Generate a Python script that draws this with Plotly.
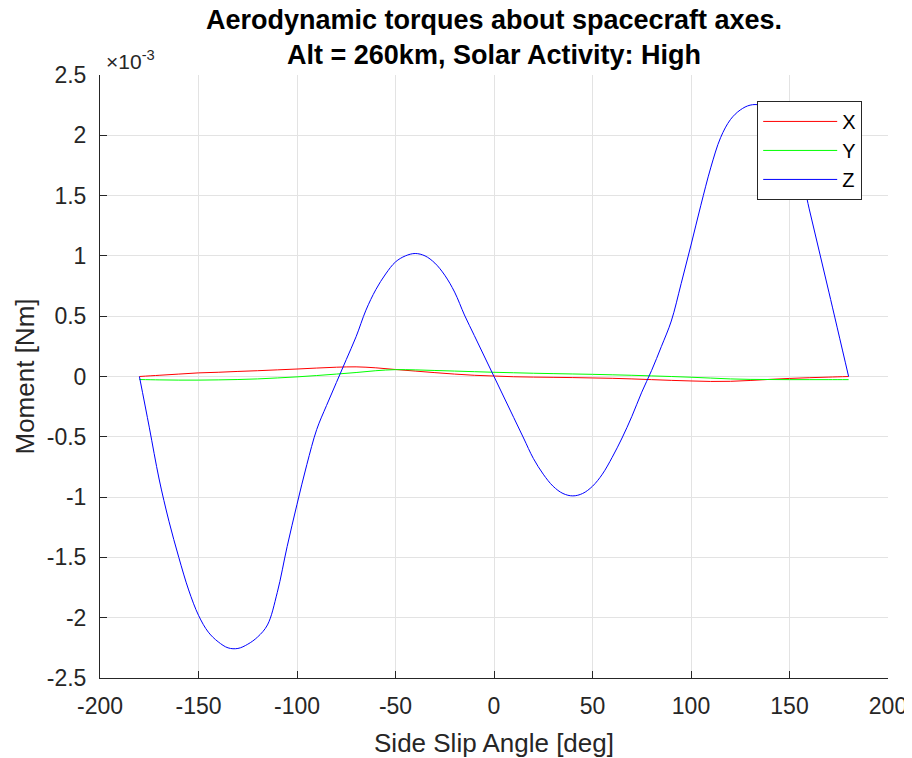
import plotly.graph_objects as go

# Side slip angle [deg]
angle_xy = [-180, -170, -160, -150, -140, -130, -120, -110, -100, -90, -80, -70, -60, -50, -40,
            -30, -20, -10, 0, 10, 20, 30, 40, 50, 60, 70, 80, 90, 100, 110, 120, 130, 140,
            150, 160, 170, 180]
# Moments in units of 1e-3 Nm
mx = [0.0, 0.01, 0.02, 0.03, 0.035, 0.042, 0.048, 0.055, 0.062, 0.07, 0.077, 0.08, 0.072,
      0.058, 0.045, 0.032, 0.02, 0.01, 0.004, -0.002, -0.005, -0.007, -0.009, -0.012, -0.015,
      -0.02, -0.026, -0.032, -0.037, -0.041, -0.04, -0.033, -0.024, -0.016, -0.01, -0.005, 0.0]
my = [-0.025, -0.028, -0.03, -0.03, -0.028, -0.025, -0.02, -0.012, -0.003, 0.008, 0.02,
      0.033, 0.048, 0.057, 0.055, 0.05, 0.045, 0.04, 0.035, 0.031, 0.027, 0.024, 0.021, 0.018,
      0.014, 0.01, 0.005, 0.0, -0.006, -0.013, -0.02, -0.024, -0.025, -0.026, -0.026, -0.026,
      -0.026]

angle_z = [-180, -175, -170, -165, -160, -155, -150, -145, -140, -135, -130, -125, -120, -115,
           -110, -105, -100, -95, -90, -85, -80, -75, -70, -65, -60, -55, -50, -45, -40, -35,
           -30, -25, -20, -15, -10, -5, 0, 5, 10, 15, 20, 25, 30, 35, 40, 45, 50, 55, 60, 65,
           70, 75, 80, 85, 90, 95, 100, 105, 110, 115, 120, 125, 130, 135, 140, 145, 150, 160,
           170, 180]
mz = [0.0, -0.42, -0.85, -1.20, -1.50, -1.77, -1.98, -2.12, -2.20, -2.25, -2.255, -2.22, -2.16,
      -2.06, -1.79, -1.41, -1.06, -0.73, -0.44, -0.24, -0.05, 0.14, 0.33, 0.55, 0.72, 0.85,
      0.95, 1.00, 1.02, 1.00, 0.94, 0.84, 0.70, 0.51, 0.34, 0.17, 0.0, -0.17, -0.34, -0.51,
      -0.68, -0.81, -0.91, -0.97, -0.99, -0.97, -0.91, -0.81, -0.67, -0.51, -0.33, -0.13,
      0.05, 0.25, 0.46, 0.77, 1.09, 1.42, 1.73, 1.98, 2.13, 2.21, 2.25, 2.25, 2.20, 2.14,
      2.08, 1.39, 0.70, 0.0]

x_ticks = [-200, -150, -100, -50, 0, 50, 100, 150, 200]
x_tick_text = ["-200", "-150", "-100", "-50", "0", "50", "100", "150", "200"]
y_ticks = [-2.5, -2, -1.5, -1, -0.5, 0, 0.5, 1, 1.5, 2, 2.5]
y_tick_text = ["-2.5", "-2", "-1.5", "-1", "-0.5", "0", "0.5", "1", "1.5", "2", "2.5"]
scale = 1e-3

FONT = "Liberation Sans, Arial, Helvetica, sans-serif"
AX = "#262626"

fig = go.Figure()
fig.add_trace(go.Scatter(x=angle_xy, y=[v * scale for v in mx], mode="lines", name="X",
                         line=dict(color="#ff0000", width=1, shape="spline", smoothing=1.0)))
fig.add_trace(go.Scatter(x=angle_xy, y=[v * scale for v in my], mode="lines", name="Y",
                         line=dict(color="#00ff00", width=1, shape="spline", smoothing=1.0)))
fig.add_trace(go.Scatter(x=angle_z, y=[v * scale for v in mz], mode="lines", name="Z",
                         line=dict(color="#0000ff", width=1, shape="spline", smoothing=1.0)))

fig.update_layout(
    width=904, height=750,
    margin=dict(l=92, r=24, t=67, b=80),
    paper_bgcolor="white", plot_bgcolor="white",
    font=dict(family=FONT, color=AX),
    title=dict(text="<b>Aerodynamic torques about spacecraft axes.<br>Alt = 260km, Solar Activity: High</b>",
               x=0.5, xref="paper", xanchor="center", y=0.972, yref="container", yanchor="top",
               font=dict(size=27, color="black", family=FONT)),
    showlegend=True,
    legend=dict(x=0.834, y=0.957, xanchor="left", yanchor="top", bgcolor="white",
                bordercolor=AX, borderwidth=1, font=dict(size=20, color="black"),
                tracegroupgap=0, itemwidth=74),
    xaxis=dict(range=[-200, 200], tickvals=x_ticks, ticktext=x_tick_text, ticks="inside",
               ticklen=7, tickcolor=AX, showline=True, linecolor=AX, linewidth=1, mirror=False,
               showgrid=True, gridcolor="#e3e3e3", zeroline=False, automargin=False,
               tickfont=dict(size=23, color=AX), ticklabelstandoff=7,
               title=dict(text="Side Slip Angle [deg]", font=dict(size=26, color=AX), standoff=21)),
    yaxis=dict(range=[-2.5 * scale, 2.5 * scale], tickvals=[t * scale for t in y_ticks],
               ticktext=y_tick_text, ticks="inside", ticklen=7, tickcolor=AX,
               showline=True, linecolor=AX, linewidth=1, mirror=False,
               showgrid=True, gridcolor="#e3e3e3", zeroline=False, automargin=False,
               tickfont=dict(size=23, color=AX), ticklabelstandoff=8,
               title=dict(text="Moment [Nm]", font=dict(size=26, color=AX), standoff=4)),
    annotations=[dict(text="×10<sup>-3</sup>", x=0, y=1, xref="paper", yref="paper",
                      xanchor="left", yanchor="bottom", showarrow=False, xshift=4,
                      font=dict(size=21, color=AX, family=FONT))],
)

fig.write_html("out.html")
